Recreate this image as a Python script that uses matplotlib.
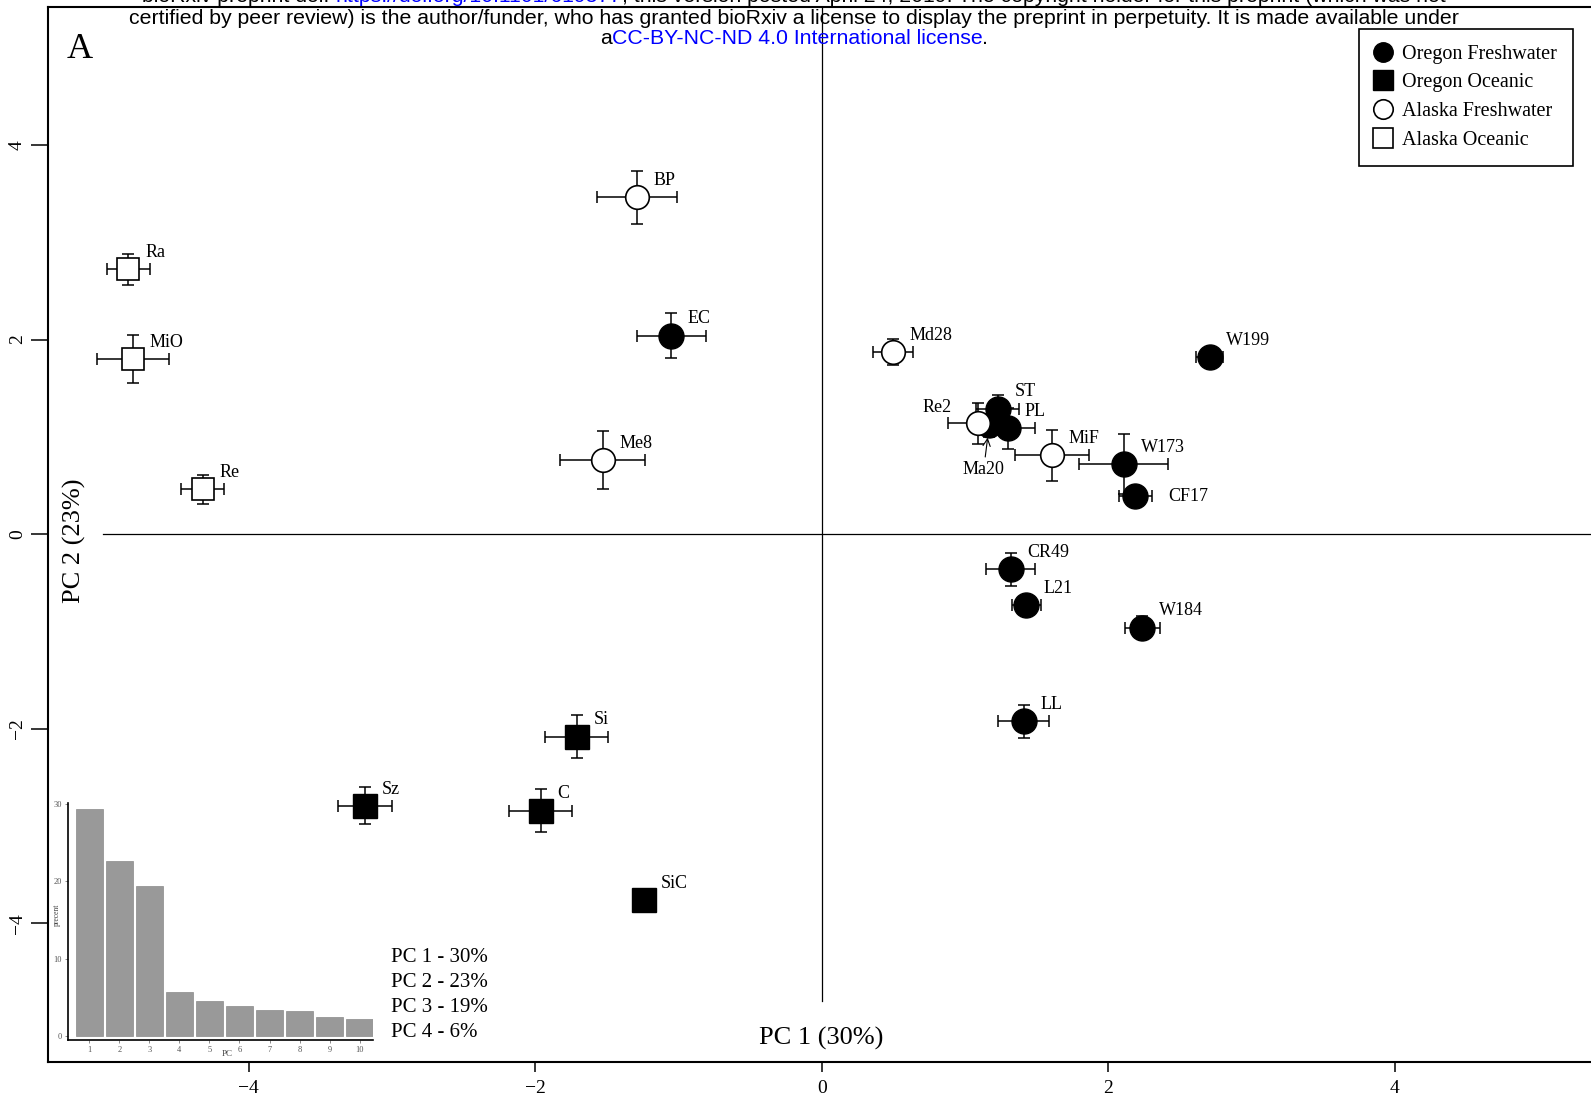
import matplotlib
matplotlib.use("Agg")
import matplotlib.pyplot as plt
from matplotlib.lines import Line2D

# PCA scores per population (mean +- error)
pops = ["BP", "Ra", "MiO", "EC", "Me8", "Re", "Md28", "W199", "ST", "PL", "Ma20",
        "Re2", "MiF", "W173", "CF17", "CR49", "L21", "W184", "LL", "Si", "Sz", "C", "SiC"]
groups = ["Alaska Freshwater", "Alaska Oceanic", "Alaska Oceanic", "Oregon Freshwater",
          "Alaska Freshwater", "Alaska Oceanic", "Alaska Freshwater", "Oregon Freshwater",
          "Oregon Freshwater", "Oregon Freshwater", "Oregon Freshwater", "Alaska Freshwater",
          "Alaska Freshwater", "Oregon Freshwater", "Oregon Freshwater", "Oregon Freshwater",
          "Oregon Freshwater", "Oregon Freshwater", "Oregon Freshwater", "Oregon Oceanic",
          "Oregon Oceanic", "Oregon Oceanic", "Oregon Oceanic"]
pc1 = [-1.29, -4.84, -4.81, -1.05, -1.53, -4.32, 0.50, 2.71, 1.23, 1.30, 1.17,
       1.09, 1.61, 2.11, 2.19, 1.32, 1.43, 2.24, 1.41, -1.71, -3.19, -1.96, -1.24]
pc2 = [3.46, 2.72, 1.80, 2.04, 0.76, 0.46, 1.87, 1.82, 1.29, 1.09, 1.12,
       1.14, 0.81, 0.72, 0.39, -0.36, -0.73, -0.96, -1.92, -2.08, -2.79, -2.84, -3.76]
pc1_err = [0.28, 0.15, 0.25, 0.24, 0.30, 0.15, 0.14, 0.095, 0.15, 0.19, 0.12,
           0.21, 0.26, 0.31, 0.115, 0.17, 0.10, 0.12, 0.18, 0.22, 0.19, 0.22, 0.08]
pc2_err = [0.27, 0.16, 0.25, 0.23, 0.30, 0.15, 0.135, 0.09, 0.14, 0.21, 0.12,
           0.21, 0.26, 0.31, 0.11, 0.17, 0.10, 0.12, 0.17, 0.22, 0.19, 0.22, 0.08]

group_names = ["Oregon Freshwater", "Oregon Oceanic", "Alaska Freshwater", "Alaska Oceanic"]

# variance explained (inset barplot)
pc_numbers = list(range(1, 11))
pc_variance = [29.4, 22.7, 19.4, 5.6, 4.5, 3.8, 3.3, 3.2, 2.4, 2.1]
pc_summary = ["PC 1 - 30%", "PC 2 - 23%", "PC 3 - 19%", "PC 4 - 6%"]

x_ticks = [-4, -2, 0, 2, 4]
y_ticks = [-4, -2, 0, 2, 4]
inset_yticks = [0, 10, 20, 30]

header_1 = ["bioRxiv preprint doi: ", "https://doi.org/10.1101/619577",
            "; this version posted April 24, 2019. The copyright holder for this preprint (which was not"]
header_2 = "certified by peer review) is the author/funder, who has granted bioRxiv a license to display the preprint in perpetuity. It is made available under"
header_3 = ["a", "CC-BY-NC-ND 4.0 International license", "."]

# estilos por grupo
styles = {
    "Oregon Freshwater": dict(marker="o", mfc="black", mec="black", ms=18, mew=1.0),
    "Oregon Oceanic": dict(marker="s", mfc="black", mec="black", ms=17, mew=1.0),
    "Alaska Freshwater": dict(marker="o", mfc="white", mec="black", ms=17, mew=1.2),
    "Alaska Oceanic": dict(marker="s", mfc="white", mec="black", ms=16, mew=1.2),
}
# etiquetas que no van arriba a la derecha
label_offsets = {"Re2": (-19, 11, "right"), "CF17": (24, 0, "left")}

SERIF = "Liberation Serif"
plt.rcParams["font.family"] = SERIF

W, H = 1591, 1099
fig = plt.figure(figsize=(W / 100, H / 100), dpi=100)


def fx(px):
    return px / W


def fy(py):
    return 1 - py / H


ax = fig.add_axes([fx(48.3), fy(1061.7), (1595 - 48.3) / W, (1061.7 - 6.7) / H])
ax.set_xlim(-5.4, 5.4)
ax.set_ylim(-5.42, 5.42)
for s in ax.spines.values():
    s.set_linewidth(1.5)

# ejes de referencia
ax.plot([0, 0], [-4.8, 5.42], color="black", lw=0.9, zorder=1)
ax.plot([-5.02, 5.4], [0, 0], color="black", lw=0.9, zorder=1)

ax.errorbar(pc1, pc2, xerr=pc1_err, yerr=pc2_err, fmt="none", ecolor="black",
            elinewidth=1.1, capsize=4.5, capthick=1.1, zorder=2)

# primero los rellenos, luego los abiertos encima
for g in group_names:
    xs = [x for x, gg in zip(pc1, groups) if gg == g]
    ys = [y for y, gg in zip(pc2, groups) if gg == g]
    z = 4 if g.startswith("Alaska") else 3
    ax.plot(xs, ys, ls="none", zorder=z, **styles[g])

for name, x, y in zip(pops, pc1, pc2):
    if name == "Ma20":
        ax.annotate(name, (x, y), xytext=(-4, -32), textcoords="offset points",
                    ha="center", va="center", fontsize=13,
                    arrowprops=dict(arrowstyle="->", color="black", lw=0.8,
                                    shrinkA=1, shrinkB=9))
        continue
    dx, dy, ha = label_offsets.get(name, (12, 12, "left"))
    ax.annotate(name, (x, y), xytext=(dx, dy), textcoords="offset points",
                ha=ha, va="center", fontsize=13, zorder=5)

ax.set_xticks(x_ticks)
ax.set_yticks(y_ticks)
ax.tick_params(axis="x", length=7, width=1.1, labelsize=14, pad=6)
ax.tick_params(axis="y", length=12, width=1.1, labelsize=14, pad=4, labelrotation=90)
for lab in ax.get_yticklabels():
    lab.set_va("center")

fig.text(fx(821.5), fy(1038), "PC 1 (30%)", ha="center", va="center", fontsize=19)
fig.text(fx(74), fy(541), "PC 2 (23%)", ha="center", va="center", fontsize=19, rotation=90)
fig.text(fx(80), fy(49), "A", ha="center", va="center", fontsize=26)

for i, line in enumerate(pc_summary):
    fig.text(fx(390.6), fy(957 + 25.3 * i), line, ha="left", va="center", fontsize=15)

# leyenda
handles = [Line2D([], [], ls="none", **{**styles[g], "ms": 14}) for g in group_names]
leg = fig.legend(handles, group_names, loc="upper left",
                 bbox_to_anchor=(fx(1359.3), fy(28.5)), borderaxespad=0,
                 frameon=True, fancybox=False, edgecolor="black", framealpha=1,
                 fontsize=14.5, handletextpad=0.52, labelspacing=0.48,
                 handlelength=0.8, borderpad=0.8)
leg.get_frame().set_linewidth(1.2)

# inset: porcentaje de varianza
ax_in = fig.add_axes([fx(68.3), fy(1040), 305 / W, 237 / H])
ax_in.patch.set_visible(False)
ax_in.bar(pc_numbers, pc_variance, width=0.91, color="#999999",
          edgecolor="#8a8a8a", linewidth=0.5)
ax_in.set_xlim(0.30, 10.455)
ax_in.set_ylim(-0.56, 30.17)
ax_in.spines["top"].set_visible(False)
ax_in.spines["right"].set_visible(False)
for s in ("left", "bottom"):
    ax_in.spines[s].set_linewidth(1.2)
ax_in.set_xticks(pc_numbers)
ax_in.set_yticks(inset_yticks)
ax_in.tick_params(length=2.5, width=0.6, labelsize=6, pad=2, colors="#555555")
ax_in.tick_params(axis="both", color="#777777")
ax_in.text(-0.037, 0.527, "precent", transform=ax_in.transAxes, rotation=90,
           ha="center", va="center", fontsize=5.5, color="#444444")
ax_in.annotate("PC", (5.78, 0), xycoords=("data", "axes fraction"),
               xytext=(0, -10), textcoords="offset points",
               ha="right", va="center", fontsize=6.5, color="#444444")

# cabecera de bioRxiv (texto en varios colores)
renderer = fig.canvas.get_renderer()


def header_line(pieces, colors, y_px, size=15.3):
    texts = [fig.text(0, fy(y_px), p, color=c, fontsize=size, family="Liberation Sans",
                      ha="left", va="center") for p, c in zip(pieces, colors)]
    widths = [t.get_window_extent(renderer).width for t in texts]
    x = 794 - sum(widths) / 2
    for t, w in zip(texts, widths):
        t.set_x(fx(x))
        x += w


header_line(header_1, ["black", "blue", "black"], -3)
header_line([header_2], ["black"], 18)
header_line(header_3, ["black", "blue", "black"], 38)

fig.savefig("out.png", dpi=100)
